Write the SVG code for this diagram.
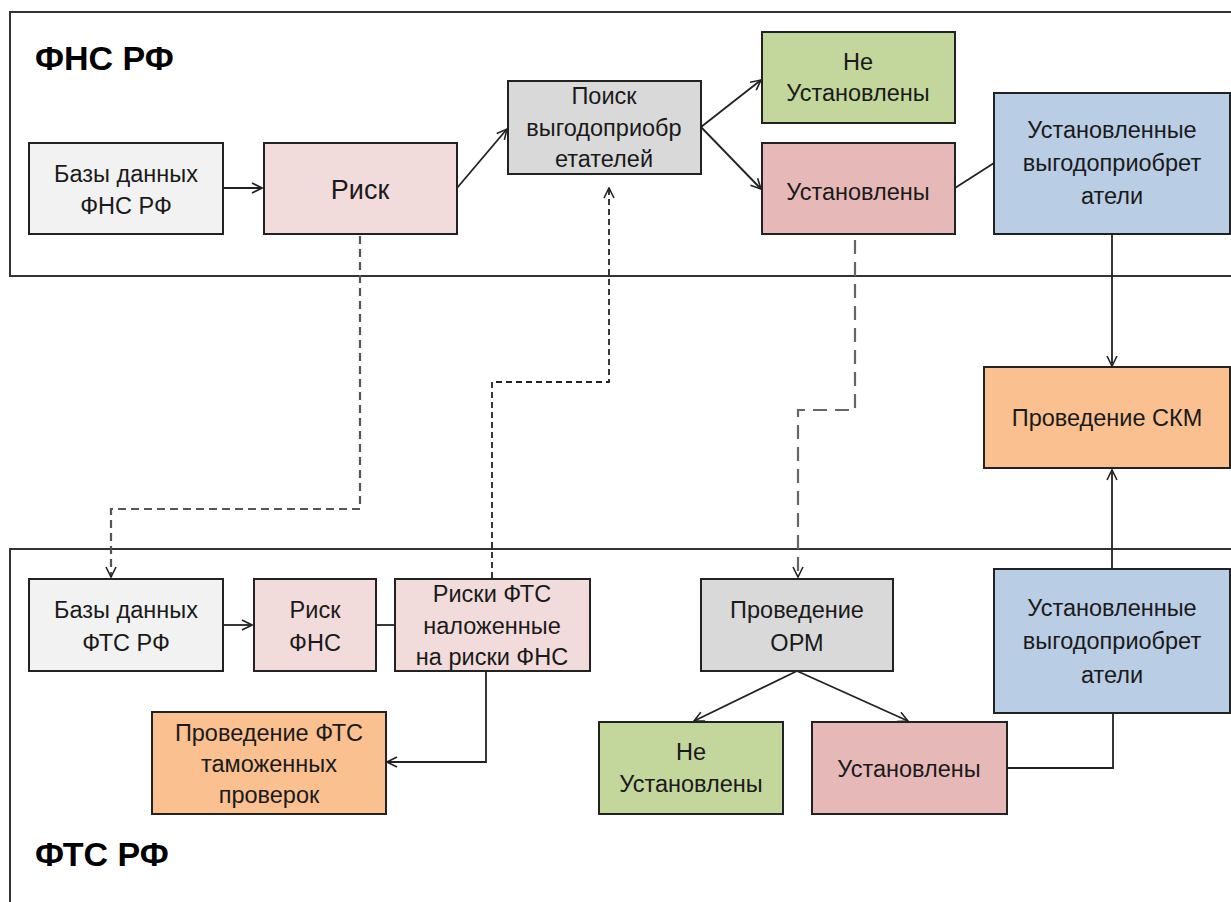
<svg xmlns="http://www.w3.org/2000/svg" width="1231" height="902" viewBox="0 0 1231 902">
<defs>
<marker id="arr" viewBox="0 0 12 12" refX="11" refY="6" markerWidth="12" markerHeight="12" markerUnits="userSpaceOnUse" orient="auto">
<path d="M1,1 L11,6 L1,11" fill="none" stroke="#222" stroke-width="1.6"/>
</marker>
</defs>
<style>
.frame{fill:none;stroke:#333;stroke-width:2}
.box{stroke:#222;stroke-width:2}
.t{font-family:"Liberation Sans",Arial,sans-serif;font-size:23.5px;fill:#1a1a1a;text-anchor:middle}
.big{font-size:27px}
.title{font-family:"Liberation Sans",Arial,sans-serif;font-size:34px;font-weight:bold;fill:#000}
.c{fill:none;stroke:#222;stroke-width:1.8}
.d1{fill:none;stroke:#555;stroke-width:2.2;stroke-dasharray:8 5}
.d2{fill:none;stroke:#222;stroke-width:1.8;stroke-dasharray:6 4}
.d3{fill:none;stroke:#666;stroke-width:2.2;stroke-dasharray:14 8}
</style>
<rect width="1231" height="902" fill="#fff"/>
<g id="frames">
<rect class="frame" x="10" y="12" width="1240" height="264"/>
<rect class="frame" x="10" y="549" width="1240" height="380"/>
<text class="title" x="35" y="70">ФНС РФ</text>
<text class="title" x="35" y="866">ФТС РФ</text>
</g>
<g id="connectors">
<path class="c" d="M223,188 H262" marker-end="url(#arr)"/>
<path class="c" d="M457,188 L507,129" marker-end="url(#arr)"/>
<path class="c" d="M701,127 L761,80" marker-end="url(#arr)"/>
<path class="c" d="M701,127 L761,189" marker-end="url(#arr)"/>
<path class="c" d="M955,188 L994,163"/>
<path class="c" d="M1112,234 V366" marker-end="url(#arr)"/>
<path class="d1" d="M360,236 V509 H111 V577" marker-end="url(#arr)"/>
<path class="d2" d="M492,578 V382 H609 V188" marker-end="url(#arr)"/>
<path class="d3" d="M855,240 V410 H798 V577" marker-end="url(#arr)"/>
<path class="c" d="M223,625 H252" marker-end="url(#arr)"/>
<path class="c" d="M376,625 H395"/>
<path class="c" d="M486,671 V762 H387" marker-end="url(#arr)"/>
<path class="c" d="M797,671 L694,721" marker-end="url(#arr)"/>
<path class="c" d="M797,671 L908,721" marker-end="url(#arr)"/>
<path class="c" d="M1007,768 H1113 V713"/>
<path class="c" d="M1112,569 V470" marker-end="url(#arr)"/>
</g>
<g id="n-db-fns"><rect class="box" x="29" y="143" width="194" height="91" fill="#f2f2f2"/><text class="t" x="126" y="182">Базы данных</text><text class="t" x="126" y="214">ФНС РФ</text></g>
<g id="n-risk"><rect class="box" x="264" y="143" width="193" height="91" fill="#f2dcdb"/><text class="t big" x="360" y="199">Риск</text></g>
<g id="n-search"><rect class="box" x="508" y="81" width="193" height="93" fill="#d9d9d9"/><text class="t" x="604" y="104">Поиск</text><text class="t" x="604" y="136">выгодоприобр</text><text class="t" x="604" y="167">етателей</text></g>
<g id="n-not-found-top"><rect class="box" x="762" y="32" width="193" height="91" fill="#c3d69b"/><text class="t" x="858" y="70">Не</text><text class="t" x="858" y="101">Установлены</text></g>
<g id="n-found-top"><rect class="box" x="762" y="143" width="193" height="91" fill="#e6b9b8"/><text class="t" x="858" y="200">Установлены</text></g>
<g id="n-benef-top"><rect class="box" x="994" y="93" width="236" height="141" fill="#b9cde5"/><text class="t" x="1112" y="138">Установленные</text><text class="t" x="1112" y="171">выгодоприобрет</text><text class="t" x="1112" y="204">атели</text></g>
<g id="n-skm"><rect class="box" x="984" y="367" width="246" height="101" fill="#fac090"/><text class="t" x="1107" y="426">Проведение СКМ</text></g>
<g id="n-db-fts"><rect class="box" x="29" y="579" width="194" height="92" fill="#f2f2f2"/><text class="t" x="126" y="618">Базы данных</text><text class="t" x="126" y="651">ФТС РФ</text></g>
<g id="n-risk-fns"><rect class="box" x="254" y="579" width="122" height="92" fill="#f2dcdb"/><text class="t" x="315" y="618">Риск</text><text class="t" x="315" y="651">ФНС</text></g>
<g id="n-risks-fts"><rect class="box" x="395" y="579" width="195" height="92" fill="#f2dcdb"/><text class="t" x="492" y="602">Риски ФТС</text><text class="t" x="492" y="634">наложенные</text><text class="t" x="492" y="665">на риски ФНС</text></g>
<g id="n-fts-check"><rect class="box" x="152" y="712" width="234" height="102" fill="#fac090"/><text class="t" x="269" y="741">Проведение ФТС</text><text class="t" x="269" y="772">таможенных</text><text class="t" x="269" y="803">проверок</text></g>
<g id="n-orm"><rect class="box" x="701" y="579" width="192" height="92" fill="#d9d9d9"/><text class="t" x="797" y="618">Проведение</text><text class="t" x="797" y="651">ОРМ</text></g>
<g id="n-not-found-bottom"><rect class="box" x="599" y="722" width="184" height="92" fill="#c3d69b"/><text class="t" x="691" y="760">Не</text><text class="t" x="691" y="792">Установлены</text></g>
<g id="n-found-bottom"><rect class="box" x="812" y="722" width="195" height="92" fill="#e6b9b8"/><text class="t" x="909" y="777">Установлены</text></g>
<g id="n-benef-bottom"><rect class="box" x="994" y="569" width="236" height="144" fill="#b9cde5"/><text class="t" x="1112" y="616">Установленные</text><text class="t" x="1112" y="649">выгодоприобрет</text><text class="t" x="1112" y="683">атели</text></g>
</svg>
